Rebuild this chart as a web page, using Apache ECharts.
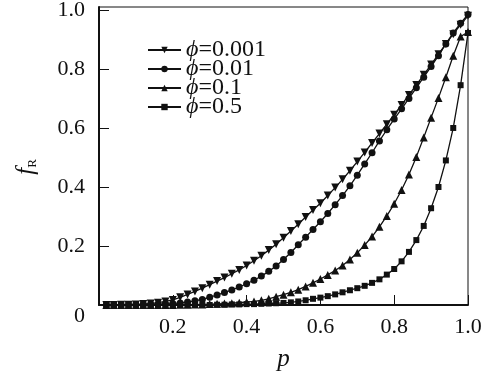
<!DOCTYPE html>
<html>
<head>
<meta charset="utf-8">
<script src="https://cdn.jsdelivr.net/npm/echarts@6/dist/echarts.min.js"></script>
<style>
  html, body { margin: 0; padding: 0; background: #fff; }
  #chart { width: 493px; height: 376px; }
</style>
</head>
<body>
<div id="chart"></div>
<script>
// p values (x axis)
const P = [0.02, 0.04, 0.06, 0.08, 0.10, 0.12, 0.14, 0.16, 0.18, 0.20,
  0.22, 0.24, 0.26, 0.28, 0.30, 0.32, 0.34, 0.36, 0.38, 0.40,
  0.42, 0.44, 0.46, 0.48, 0.50, 0.52, 0.54, 0.56, 0.58, 0.60,
  0.62, 0.64, 0.66, 0.68, 0.70, 0.72, 0.74, 0.76, 0.78, 0.80,
  0.82, 0.84, 0.86, 0.88, 0.90, 0.92, 0.94, 0.96, 0.98, 1.00]

// f_R for each phi
const phi0001 = [0.000, 0.000, 0.001, 0.001, 0.002, 0.003, 0.005, 0.008, 0.012, 0.017,
  0.026, 0.036, 0.046, 0.057, 0.069, 0.081, 0.093, 0.106, 0.119, 0.134,
  0.150, 0.167, 0.186, 0.206, 0.228, 0.251, 0.274, 0.298, 0.322, 0.345,
  0.371, 0.398, 0.426, 0.455, 0.486, 0.517, 0.549, 0.581, 0.613, 0.645,
  0.678, 0.712, 0.746, 0.780, 0.815, 0.850, 0.885, 0.918, 0.950, 0.980]
const phi001 = [0.000, 0.000, 0.000, 0.001, 0.001, 0.002, 0.002, 0.003, 0.004, 0.005,
  0.007, 0.010, 0.014, 0.019, 0.026, 0.034, 0.042, 0.051, 0.061, 0.072,
  0.084, 0.098, 0.114, 0.132, 0.154, 0.178, 0.204, 0.230, 0.256, 0.282,
  0.310, 0.340, 0.371, 0.404, 0.440, 0.478, 0.516, 0.556, 0.594, 0.630,
  0.665, 0.700, 0.736, 0.772, 0.808, 0.845, 0.885, 0.922, 0.955, 0.985]
const phi01 = [0.000, 0.000, 0.000, 0.000, 0.000, 0.000, 0.000, 0.000, 0.000, 0.000,
  0.001, 0.001, 0.002, 0.002, 0.003, 0.004, 0.005, 0.006, 0.008, 0.010,
  0.012, 0.016, 0.021, 0.028, 0.035, 0.043, 0.052, 0.063, 0.075, 0.088,
  0.102, 0.117, 0.134, 0.154, 0.177, 0.203, 0.232, 0.265, 0.302, 0.343,
  0.390, 0.442, 0.502, 0.568, 0.635, 0.702, 0.772, 0.845, 0.910, 0.925]
const phi05 = [0.000, 0.000, 0.000, 0.000, 0.000, 0.000, 0.000, 0.000, 0.000, 0.000,
  0.000, 0.000, 0.000, 0.000, 0.000, 0.001, 0.001, 0.002, 0.002, 0.003,
  0.003, 0.004, 0.005, 0.006, 0.007, 0.009, 0.012, 0.016, 0.021, 0.025,
  0.030, 0.036, 0.043, 0.050, 0.057, 0.065, 0.075, 0.087, 0.103, 0.122,
  0.148, 0.180, 0.220, 0.268, 0.328, 0.400, 0.490, 0.600, 0.745, 0.922]

const seriesNames = ['ϕ=0.001', 'ϕ=0.01', 'ϕ=0.1', 'ϕ=0.5']
const xTicks = [0.2, 0.4, 0.6, 0.8, 1.0]

const FONT = '"Liberation Serif", "DejaVu Serif", serif'
const INK = '#111'

const chart = echarts.init(document.getElementById('chart'))

function makeSeries(name, values, symbol, size, rotate) {
  return {
    name: name,
    type: 'line',
    data: P.map((p, i) => [p, values[i]]),
    symbol: symbol,
    symbolSize: size,
    symbolRotate: rotate || 0,
    showAllSymbol: true,
    lineStyle: { color: INK, width: 1.3 },
    itemStyle: { color: INK, borderWidth: 0 },
    emphasis: { disabled: true },
    animation: false
  }
}

chart.setOption({
  animation: false,
  grid: {
    left: 99,
    right: 25,
    top: 7,
    bottom: 71,
    outerBoundsMode: 'none',
    show: true,
    borderColor: INK,
    borderWidth: 1
  },
  legend: {
    orient: 'vertical',
    left: 147,
    top: 38,
    padding: 0,
    itemWidth: 33,
    itemHeight: 8,
    itemGap: -5,
    selectedMode: false,
    data: seriesNames,
    formatter: name => '{i|ϕ}{n|' + name.slice(1) + '}',
    textStyle: {
      fontFamily: FONT,
      fontSize: 24,
      lineHeight: 17,
      color: INK,
      rich: {
        i: { fontFamily: FONT, fontStyle: 'italic', fontSize: 24, lineHeight: 17, color: INK },
        n: { fontFamily: FONT, fontSize: 24, lineHeight: 17, color: INK }
      }
    }
  },
  xAxis: {
    type: 'value',
    min: 0,
    max: 1.0,
    interval: 0.2,
    name: 'p',
    nameLocation: 'middle',
    nameGap: 42,
    nameTextStyle: { fontFamily: FONT, fontStyle: 'italic', fontSize: 25, color: INK },
    axisLine: { lineStyle: { color: INK, width: 2 } },
    axisTick: { inside: true, length: 10, lineStyle: { color: INK, width: 1 } },
    splitLine: { show: false },
    axisLabel: {
      margin: 11,
      fontFamily: FONT,
      fontSize: 22,
      color: INK,
      formatter: v => (xTicks.indexOf(Math.round(v * 10) / 10) >= 0 && v > 0 ? v.toFixed(1) : '')
    }
  },
  yAxis: {
    type: 'value',
    min: 0,
    max: 1.01,
    interval: 0.2,
    name: '{f|f}{r|R}',
    nameLocation: 'middle',
    nameRotate: 90,
    nameGap: 60,
    nameTextStyle: {
      rich: {
        f: { fontFamily: FONT, fontStyle: 'italic', fontSize: 25, color: INK, lineHeight: 26 },
        r: { fontFamily: FONT, fontSize: 13, color: INK, verticalAlign: 'bottom', lineHeight: 26, padding: [10, 22, 0, 0] }
      }
    },
    axisLine: { lineStyle: { color: INK, width: 2 } },
    axisTick: { inside: true, length: 10, lineStyle: { color: INK, width: 1 } },
    splitLine: { show: false },
    axisLabel: {
      margin: 14,
      fontFamily: FONT,
      fontSize: 22,
      lineHeight: 22,
      color: INK,
      formatter: v => (v === 0 ? '\n0' : v.toFixed(1))
    }
  },
  series: [
    makeSeries(seriesNames[0], phi0001, 'triangle', 8, 180),
    makeSeries(seriesNames[1], phi001, 'circle', 7),
    makeSeries(seriesNames[2], phi01, 'triangle', 8),
    makeSeries(seriesNames[3], phi05, 'rect', 6)
  ]
})
</script>
</body>
</html>
